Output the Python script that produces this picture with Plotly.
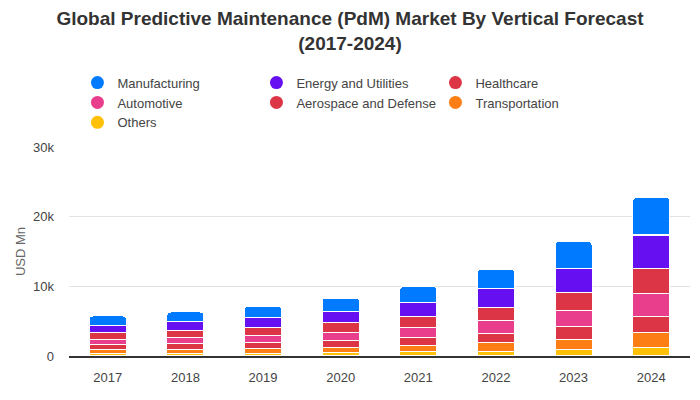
import plotly.graph_objects as go

years = ["2017", "2018", "2019", "2020", "2021", "2022", "2023", "2024"]
others = [381, 381, 381, 476, 667, 667, 952, 1238]
transportation = [524, 524, 714, 762, 857, 1286, 1429, 2143]
aerospace = [714, 905, 857, 1000, 1143, 1286, 1905, 2333]
automotive = [762, 857, 1000, 1143, 1429, 1857, 2238, 3238]
healthcare = [1000, 1000, 1143, 1429, 1524, 1857, 2571, 3571]
energy = [1000, 1286, 1429, 1571, 2048, 2714, 3429, 4857]
manufacturing = [1381, 1381, 1667, 1952, 2333, 2762, 3905, 5381]

series = [
    ("Others", others, "#ffc107"),
    ("Transportation", transportation, "#fd7e14"),
    ("Aerospace and Defense", aerospace, "#dc3545"),
    ("Automotive", automotive, "#e83e8c"),
    ("Healthcare", healthcare, "#dc3545"),
    ("Energy and Utilities", energy, "#6610f2"),
    ("Manufacturing", manufacturing, "#007bff"),
]
legend_order = ["Manufacturing", "Energy and Utilities", "Healthcare",
                "Automotive", "Aerospace and Defense", "Transportation", "Others"]

fig = go.Figure()
for name, vals, color in series:
    fig.add_trace(go.Bar(x=years, y=vals, name=name, marker_color=color,
                         marker_line_color="white", marker_line_width=1.2,
                         showlegend=False))
colors = {n: c for n, _, c in series}
for name in legend_order:
    fig.add_trace(go.Scatter(x=[None], y=[None], mode="markers", name=name,
                             marker=dict(symbol="circle", size=13, color=colors[name])))

fig.update_layout(
    width=700, height=400,
    barmode="stack", bargap=0.52, barcornerradius=4,
    paper_bgcolor="white", plot_bgcolor="white",
    font=dict(family="Liberation Sans, Arial, sans-serif", size=13, color="#444"),
    title=dict(text="<b>Global Predictive Maintenance (PdM) Market By Vertical Forecast<br>(2017-2024)</b>",
               x=0.5, xanchor="center", y=0.938, yanchor="middle",
               font=dict(size=19, color="#333")),
    margin=dict(l=69, r=10, t=147, b=44),
    legend=dict(orientation="h", traceorder="normal", x=0.0136, xanchor="left",
                y=1.38, yanchor="top", itemwidth=30,
                entrywidth=134, entrywidthmode="pixels",
                font=dict(size=13, color="#444"), itemsizing="trace",
                tracegroupgap=0),
    xaxis=dict(showline=True, linecolor="#333", linewidth=2, ticks="",
               ticklabelstandoff=8,
               tickfont=dict(size=13, color="#444")),
    yaxis=dict(range=[0, 30000], tickvals=[0, 10000, 20000, 30000],
               ticktext=["0", "10k", "20k", "30k"], showgrid=True,
               gridcolor="#e3e3e3", zeroline=False, ticklabelstandoff=14,
               title=dict(text="USD Mn", font=dict(size=13, color="#666"), standoff=4),
               tickfont=dict(size=13, color="#444")),
)
fig.write_html("out.html")
